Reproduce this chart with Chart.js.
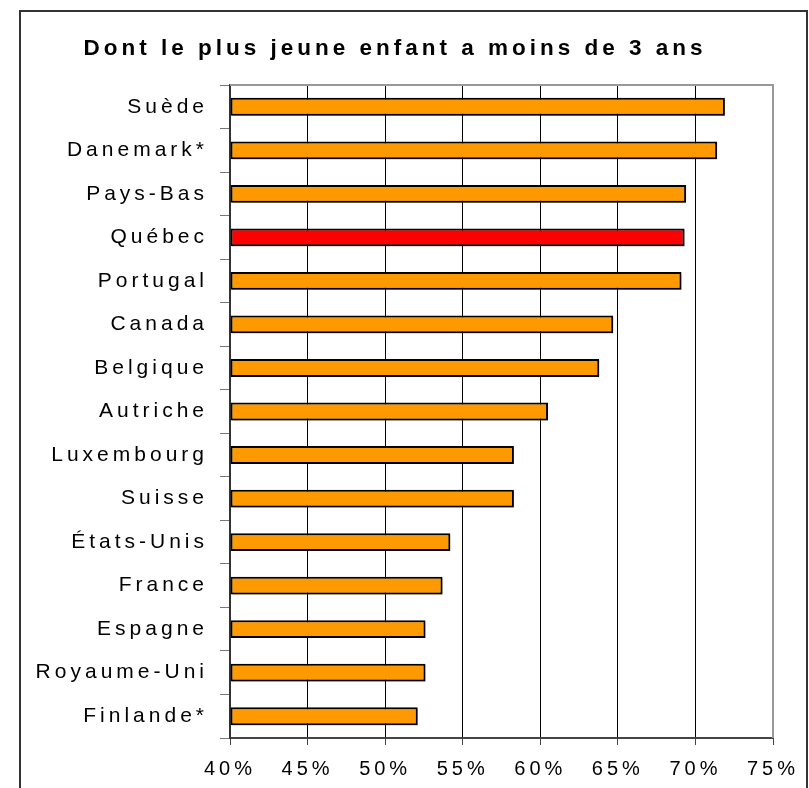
<!DOCTYPE html>
<html><head><meta charset="utf-8">
<script src="https://cdn.jsdelivr.net/npm/chart.js@4/dist/chart.umd.min.js"></script>
<style>html,body{margin:0;padding:0;background:#fff;overflow:hidden;} #wrap{position:relative;width:809px;height:788px;}</style>
</head><body><div id="wrap"><canvas id="c" width="809" height="788"></canvas></div>
<script>
const chartTitle = 'Dont le plus jeune enfant a moins de 3 ans';
const categories = ['Suède','Danemark*','Pays-Bas','Québec','Portugal','Canada','Belgique','Autriche','Luxembourg','Suisse','États-Unis','France','Espagne','Royaume-Uni','Finlande*'];
const values = [71.9, 71.4, 69.4, 69.3, 69.1, 64.7, 63.8, 60.5, 58.3, 58.3, 54.2, 53.7, 52.6, 52.6, 52.1];
const highlight = 'Québec';
const xTickValues = [40, 45, 50, 55, 60, 65, 70, 75];

const FONT = "'Liberation Sans', Arial, sans-serif";
const barColors = categories.map(c => c === highlight ? '#FF0000' : '#FF9900');

const framePlugin = {
  id: 'frame',
  beforeLayout(chart) { chart.ctx.letterSpacing = '4px'; },
  beforeDraw(chart) {
    const c = chart.ctx;
    c.letterSpacing = '4px';
    c.save();
    c.strokeStyle = '#333';
    c.lineWidth = 2;
    c.strokeRect(20, 11, 787, 820);
    c.restore();
  },
  beforeDatasetsDraw(chart) {
    const c = chart.ctx;
    c.save();
    c.shadowColor = 'rgba(0,0,0,0.35)';
    c.shadowOffsetX = 1.5;
    c.shadowOffsetY = 1.5;
    c.shadowBlur = 0;
  },
  afterDatasetsDraw(chart) {
    const c = chart.ctx;
    c.restore();
    const {top, right, left, bottom} = chart.chartArea;
    c.save();
    c.strokeStyle = '#999';
    c.lineWidth = 2;
    c.beginPath();
    c.moveTo(left, top); c.lineTo(right + 1, top);
    c.moveTo(right, top); c.lineTo(right, bottom);
    c.stroke();
    c.restore();
  }
};

new Chart(document.getElementById('c'), {
  type: 'bar',
  data: {
    labels: categories,
    datasets: [{
      data: values,
      base: 40,
      backgroundColor: barColors,
      borderColor: '#000',
      borderWidth: 2,
      borderSkipped: false,
      barPercentage: 0.41,
      categoryPercentage: 1
    }]
  },
  options: {
    indexAxis: 'y',
    responsive: false,
    devicePixelRatio: 1,
    animation: false,
    layout: { padding: { left: 17, right: 36, top: 0, bottom: 0 } },
    plugins: {
      legend: { display: false },
      tooltip: { enabled: false },
      title: {
        display: true,
        text: chartTitle,
        color: '#000',
        font: { family: FONT, size: 22.5, weight: 'bold' },
        padding: { top: 35, bottom: 23 }
      }
    },
    scales: {
      x: {
        min: 40, max: 75,
        afterBuildTicks(scale) { scale.ticks = xTickValues.map(v => ({ value: v })); },
        afterFit(scale) { scale.height = 50; scale.paddingLeft = 0; scale.paddingRight = 0; },
        ticks: {
          callback: v => v + '%',
          color: '#000',
          font: { family: FONT, size: 20 },
          padding: 12,
          maxRotation: 0,
          autoSkip: false
        },
        grid: {
          color: ctx => (ctx.tick && ctx.tick.value === 75) ? '#999' : '#000',
          lineWidth: 1,
          drawTicks: true,
          tickLength: 7,
          tickColor: '#444'
        },
        border: { display: true, color: '#444', width: 2 }
      },
      y: {
        afterFit(scale) { scale.width = 213; },
        ticks: {
          color: '#000',
          font: { family: FONT, size: 21 },
          padding: 12,
          autoSkip: false
        },
        grid: {
          offset: true,
          drawOnChartArea: false,
          drawTicks: true,
          tickLength: 10,
          tickColor: '#777',
          lineWidth: 1
        },
        border: { display: true, color: '#333', width: 2 }
      }
    }
  },
  plugins: [framePlugin]
});
</script>
</body></html>
